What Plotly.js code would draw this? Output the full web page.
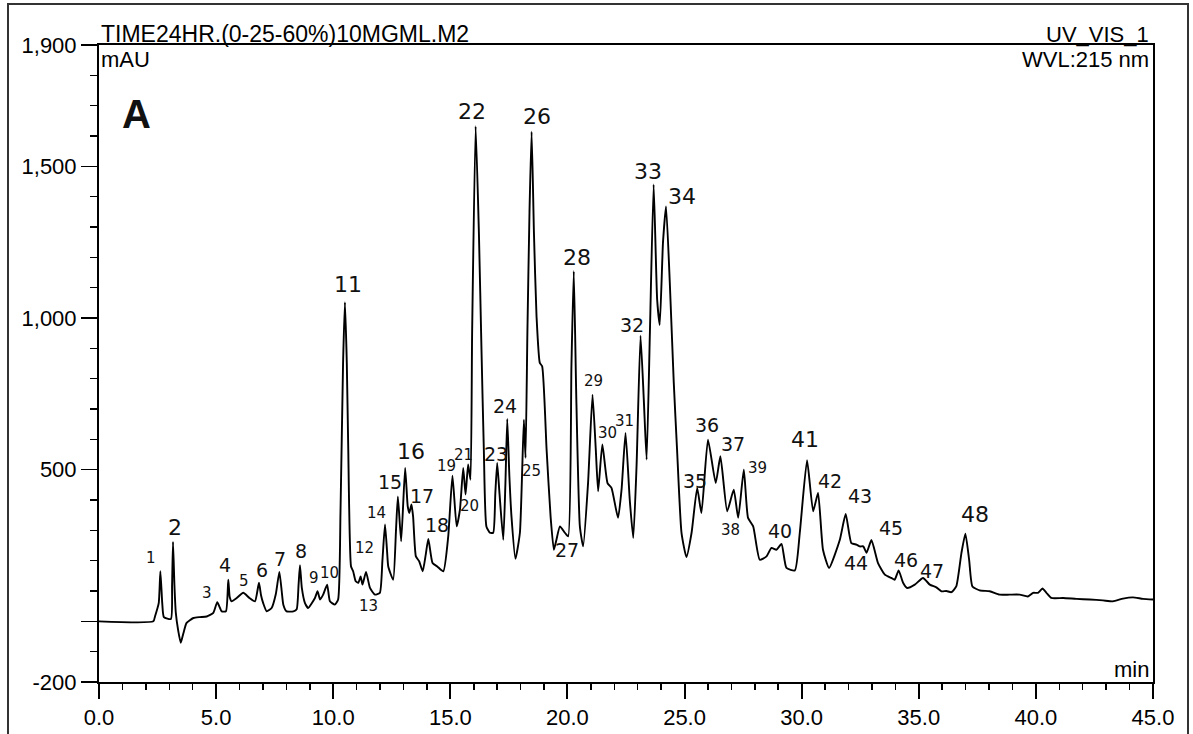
<!DOCTYPE html>
<html>
<head>
<meta charset="utf-8">
<script src="https://cdn.plot.ly/plotly-3.0.1.min.js"></script>
<style>
  html, body { margin: 0; padding: 0; background: #fff; }
  #wrap { position: relative; width: 1193px; height: 734px; overflow: hidden; }
  #chart { width: 1193px; height: 734px; }
  #frame { position: absolute; left: 7px; top: 3px; width: 1178px; height: 740px;
           border: 2px solid #333; pointer-events: none; }
</style>
</head>
<body>
<div id="wrap">
  <div id="chart"></div>
  <div id="frame"></div>
</div>
<script>
// ---- data ----
const retentionTime = [
  0, 2.32, 2.39, 2.55, 2.62, 2.70, 2.77, 3.07, 3.12, 3.16, 3.22, 3.28, 3.38, 3.49, 3.60, 3.74,
  4.03, 4.30, 4.60, 4.88, 5.05, 5.24, 5.42, 5.52, 5.58, 5.66, 5.88, 6.16, 6.42, 6.66, 6.83,
  6.92, 7.01, 7.16, 7.37, 7.55, 7.70, 7.80, 7.87, 8.01, 8.30, 8.44, 8.52, 8.58, 8.66, 8.79,
  8.93, 9.22, 9.33, 9.44, 9.57, 9.74, 9.86, 10.07, 10.21, 10.31, 10.42, 10.50, 10.58, 10.64,
  10.76, 10.85, 10.96, 11.07, 11.17, 11.25, 11.40, 11.57, 11.78, 11.99, 12.10, 12.21, 12.30,
  12.35, 12.56, 12.68, 12.76, 12.90, 13.07, 13.18, 13.25, 13.34, 13.41, 13.53, 13.67, 13.82,
  13.95, 14.06, 14.24, 14.44, 14.70, 14.91, 15.09, 15.27, 15.41, 15.55, 15.65, 15.76, 15.86,
  15.93, 16.08, 16.22, 16.33, 16.43, 16.54, 16.69, 16.83, 16.92, 17.00, 17.10, 17.26, 17.35,
  17.43, 17.52, 17.61, 17.78, 17.97, 18.14, 18.21, 18.29, 18.38, 18.47, 18.57, 18.68, 18.82,
  18.92, 19.11, 19.28, 19.42, 19.53, 19.68, 19.89, 20.03, 20.17, 20.27, 20.38, 20.53, 20.67,
  20.88, 21.07, 21.21, 21.31, 21.49, 21.71, 21.88, 22.16, 22.31, 22.48, 22.66, 22.81, 22.95,
  23.12, 23.26, 23.38, 23.52, 23.68, 23.83, 23.94, 24.08, 24.21, 24.37, 24.54, 24.68, 24.87,
  25.08, 25.30, 25.54, 25.72, 26.00, 26.33, 26.53, 26.82, 27.10, 27.29, 27.53, 27.71, 27.93,
  28.21, 28.50, 28.71, 28.92, 29.14, 29.35, 29.71, 29.92, 30.23, 30.49, 30.70, 30.91, 31.17,
  31.63, 31.88, 32.12, 32.34, 32.48, 32.63, 32.77, 32.98, 33.26, 33.55, 33.83, 33.97, 34.14,
  34.33, 34.50, 34.83, 35.18, 35.47, 35.75, 35.97, 36.18, 36.39, 36.60, 36.82, 36.99, 37.15,
  37.29, 37.60, 38.03, 38.45, 38.87, 39.31, 39.66, 39.88, 40.09, 40.28, 40.45, 40.66, 41.16,
  41.73, 42.30, 42.86, 43.29, 43.72, 44.14, 44.57, 45.00
];
const absorbance = [
  0, 0, 16, 60, 165, 60, 14, 8, 120, 262, 120, 28, -30, -71, -40, -5,
  11, 14, 16, 28, 63, 33, 33, 137, 80, 66, 77, 94, 77, 66, 127,
  85, 60, 33, 44, 90, 163, 100, 55, 33, 33, 40, 120, 185, 110, 61,
  44, 77, 99, 72, 88, 121, 66, 55, 72, 357, 850, 1052, 850, 577,
  181, 165, 132, 127, 148, 121, 163, 110, 88, 94, 200, 319, 230,
  181, 137, 300, 412, 264, 506, 380, 357, 385, 346, 214, 198, 165,
  220, 272, 192, 181, 165, 280, 480, 313, 368, 506, 418, 517, 467,
  950, 1632, 1280, 896, 566, 313, 292, 292, 420, 522, 420, 269, 450,
  667, 480, 346, 206, 292, 665, 539, 951, 1350, 1614, 1280, 1006, 852,
  841, 566, 346, 236, 269, 313, 292, 280, 841, 1154, 731, 313, 247,
  456, 747, 566, 429, 583, 456, 440, 341, 434, 621, 401, 275, 511,
  942, 731, 533, 951, 1440, 1061, 977, 1250, 1368, 1116, 786, 566, 292,
  212, 292, 440, 357, 599, 456, 544, 363, 434, 341, 500, 341, 313,
  203, 214, 242, 236, 255, 176, 168, 292, 531, 363, 423, 236, 176,
  269, 354, 258, 253, 247, 247, 226, 268, 192, 154, 143, 137, 168,
  127, 110, 121, 143, 121, 112, 99, 100, 96, 115, 225, 289, 203,
  115, 102, 99, 88, 88, 88, 82, 94, 94, 108, 94, 77, 77,
  74, 72, 69, 66, 75, 79, 74, 72
];

// peak numbers and where their handwritten labels sit (minutes, mAU)
const peakNumbers = ['1','2','3','4','5','6','7','8','9','10','11','12','13','14','15','16',
  '17','18','19','20','21','22','23','24','25','26','27','28','29','30','31','32','33','34',
  '35','36','37','38','39','40','41','42','43','44','45','46','47','48'];
const labelTime = [2.22, 3.24, 4.60, 5.38, 6.19, 6.94, 7.73, 8.62, 9.18, 9.86, 10.63, 11.35,
  11.49, 11.85, 12.42, 13.34, 13.81, 14.41, 14.84, 15.83, 15.55, 15.93, 16.97, 17.33, 18.47,
  18.68, 19.96, 20.39, 21.10, 21.70, 22.45, 22.74, 23.44, 24.87, 25.44, 25.96, 27.05, 26.96,
  28.10, 29.07, 30.16, 31.20, 32.48, 32.34, 33.83, 34.44, 35.58, 37.42];
const labelValue = [209, 308, 94, 187, 132, 170, 206, 231, 143, 160, 1110, 242,
  49, 357, 458, 560, 412, 319, 511, 381, 550, 1681, 553, 711, 495,
  1665, 236, 1198, 791, 621, 659, 978, 1484, 1401, 462, 648, 583, 302,
  506, 297, 599, 462, 412, 192, 308, 203, 165, 352];

const yTickVals = [-200, 0, 500, 1000, 1500, 1900];
const yTickText = ['-200', '', '500', '1,000', '1,500', '1,900'];

// ---- styling ----
const smallLabels = new Set(['1','9','10','19','20','21','25','29','30','31','38','39','13','12','14','3','5']);
const bigLabels = new Set(['22','26','33','34','28','48','41','11','16','2']);
const FONT = 'Liberation Sans, Arial, sans-serif';
const HAND = 'DejaVu Sans, sans-serif';

const annotations = peakNumbers.map((p, i) => ({
  x: labelTime[i], y: labelValue[i], xref: 'x', yref: 'y',
  text: p, showarrow: false,
  font: { family: HAND, color: '#111', size: bigLabels.has(p) ? 22 : (smallLabels.has(p) ? 15 : 19) }
}));

annotations.push(
  { xref: 'paper', yref: 'paper', x: 0, y: 1, xanchor: 'left', yanchor: 'bottom', xshift: 0, yshift: -4,
    text: 'TIME24HR.(0-25-60%)10MGML.M2', showarrow: false, font: { family: FONT, size: 23, color: '#000' } },
  { xref: 'paper', yref: 'paper', x: 0, y: 1, xanchor: 'left', yanchor: 'top', xshift: 0, yshift: 0,
    text: 'mAU', showarrow: false, font: { family: FONT, size: 22, color: '#000' } },
  { xref: 'paper', yref: 'paper', x: 1, y: 1, xanchor: 'right', yanchor: 'bottom', xshift: -2, yshift: -4,
    text: 'UV_VIS_1', showarrow: false, font: { family: FONT, size: 22, color: '#000' } },
  { xref: 'paper', yref: 'paper', x: 1, y: 1, xanchor: 'right', yanchor: 'top', xshift: -2, yshift: 0,
    text: 'WVL:215 nm', showarrow: false, font: { family: FONT, size: 22, color: '#000' } },
  { xref: 'paper', yref: 'paper', x: 1, y: 0, xanchor: 'right', yanchor: 'bottom', xshift: -2, yshift: -2,
    text: 'min', showarrow: false, font: { family: FONT, size: 22, color: '#000' } },
  { xref: 'paper', yref: 'paper', x: 0.036, y: 0.892, xanchor: 'center', yanchor: 'middle',
    text: '<b>A</b>', showarrow: false, font: { family: FONT, size: 40, color: '#111' } }
);

const trace = {
  x: retentionTime, y: absorbance, type: 'scatter', mode: 'lines',
  line: { color: '#000', width: 1.9, shape: 'spline', smoothing: 0.5 },
  hoverinfo: 'x+y'
};

const layout = {
  width: 1193, height: 734,
  margin: { l: 99, r: 40, t: 45, b: 52, pad: 0 },
  paper_bgcolor: '#fff', plot_bgcolor: '#fff',
  showlegend: false,
  font: { family: FONT, size: 22, color: '#000' },
  xaxis: {
    range: [0, 45], dtick: 5, tick0: 0, tickformat: '.1f',
    showgrid: false, zeroline: false,
    showline: true, linecolor: '#000', linewidth: 2, mirror: true,
    ticks: 'outside', ticklen: 15, tickwidth: 2, tickcolor: '#000',
    tickfont: { family: FONT, size: 22, color: '#000' },
    minor: { ticks: 'outside', dtick: 1, ticklen: 6, tickwidth: 1.5, tickcolor: '#000', showgrid: false }
  },
  yaxis: {
    range: [-200, 1900], tickmode: 'array', tickvals: yTickVals, ticktext: yTickText,
    showgrid: false, zeroline: false,
    showline: true, linecolor: '#000', linewidth: 2, mirror: true,
    ticks: 'outside', ticklen: 16, tickwidth: 1.5, tickcolor: '#000',
    tickfont: { family: FONT, size: 22, color: '#000' },
    minor: { ticks: 'outside', tickmode: 'linear', tick0: 0, dtick: 100, ticklen: 7, tickwidth: 1.5, tickcolor: '#000', showgrid: false }
  },
  annotations: annotations
};

Plotly.newPlot('chart', [trace], layout, { displayModeBar: false, staticPlot: true });
</script>
</body>
</html>
